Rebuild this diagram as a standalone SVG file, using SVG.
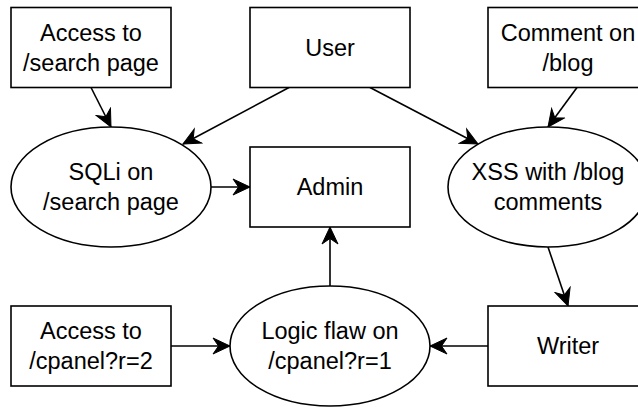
<svg xmlns="http://www.w3.org/2000/svg" width="638" height="407" viewBox="0 0 638 407">
  <defs>
    <style>
      .shape { fill: #ffffff; stroke: #000000; stroke-width: 1.6; }
      .edge { fill: none; stroke: #000000; stroke-width: 1.6; marker-end: url(#arrow); }
      text { font-family: "Liberation Sans", Arial, Helvetica, sans-serif; font-size: 23.5px; fill: #000000; text-anchor: middle; }
    </style>
    <marker id="arrow" markerUnits="userSpaceOnUse" markerWidth="20" markerHeight="20" viewBox="-18 -10 20 20" refX="0" refY="0" orient="auto">
      <path d="M0,0 L-17,-8 L-11.5,0 L-17,8 Z" fill="#000000" stroke="#000000" stroke-width="1"/>
    </marker>
  </defs>
  <rect width="638" height="407" fill="#ffffff"/>

  <!-- connectors -->
  <g id="edges">
    <line class="edge" x1="91" y1="87.5" x2="111" y2="127"/>
    <line class="edge" x1="289" y1="87.5" x2="183" y2="144"/>
    <line class="edge" x1="370" y1="87.5" x2="478" y2="144"/>
    <line class="edge" x1="577" y1="87.5" x2="548" y2="127"/>
    <line class="edge" x1="211" y1="187" x2="250" y2="187"/>
    <line class="edge" x1="548" y1="247" x2="568" y2="306"/>
    <line class="edge" x1="488" y1="346" x2="430" y2="346"/>
    <line class="edge" x1="171" y1="346" x2="230" y2="346"/>
    <line class="edge" x1="330" y1="286" x2="330" y2="227"/>
  </g>

  <!-- nodes -->
  <g id="access-search">
    <rect class="shape" x="11" y="7.5" width="160" height="80"/>
    <text x="91" y="40.7">Access to</text>
    <text x="91" y="70.7">/search page</text>
  </g>
  <g id="user">
    <rect class="shape" x="250" y="7.5" width="160" height="80"/>
    <text x="330" y="55.9">User</text>
  </g>
  <g id="comment-blog">
    <rect class="shape" x="488" y="7.5" width="160" height="80"/>
    <text x="568" y="40.7">Comment on</text>
    <text x="568" y="70.7">/blog</text>
  </g>
  <g id="sqli">
    <ellipse class="shape" cx="111" cy="187" rx="100" ry="60"/>
    <text x="111" y="180.2">SQLi on</text>
    <text x="111" y="210.2">/search page</text>
  </g>
  <g id="admin">
    <rect class="shape" x="250" y="147" width="160" height="80"/>
    <text x="330" y="195.4">Admin</text>
  </g>
  <g id="xss">
    <ellipse class="shape" cx="548" cy="187" rx="100" ry="60"/>
    <text x="548" y="180.2">XSS with /blog</text>
    <text x="548" y="210.2">comments</text>
  </g>
  <g id="access-cpanel">
    <rect class="shape" x="11" y="306" width="160" height="80"/>
    <text x="91" y="339.2">Access to</text>
    <text x="91" y="369.2">/cpanel?r=2</text>
  </g>
  <g id="logic-flaw">
    <ellipse class="shape" cx="330" cy="346" rx="100" ry="60"/>
    <text x="330" y="339.2">Logic flaw on</text>
    <text x="330" y="369.2">/cpanel?r=1</text>
  </g>
  <g id="writer">
    <rect class="shape" x="488" y="306" width="160" height="80"/>
    <text x="568" y="354.4">Writer</text>
  </g>
</svg>
